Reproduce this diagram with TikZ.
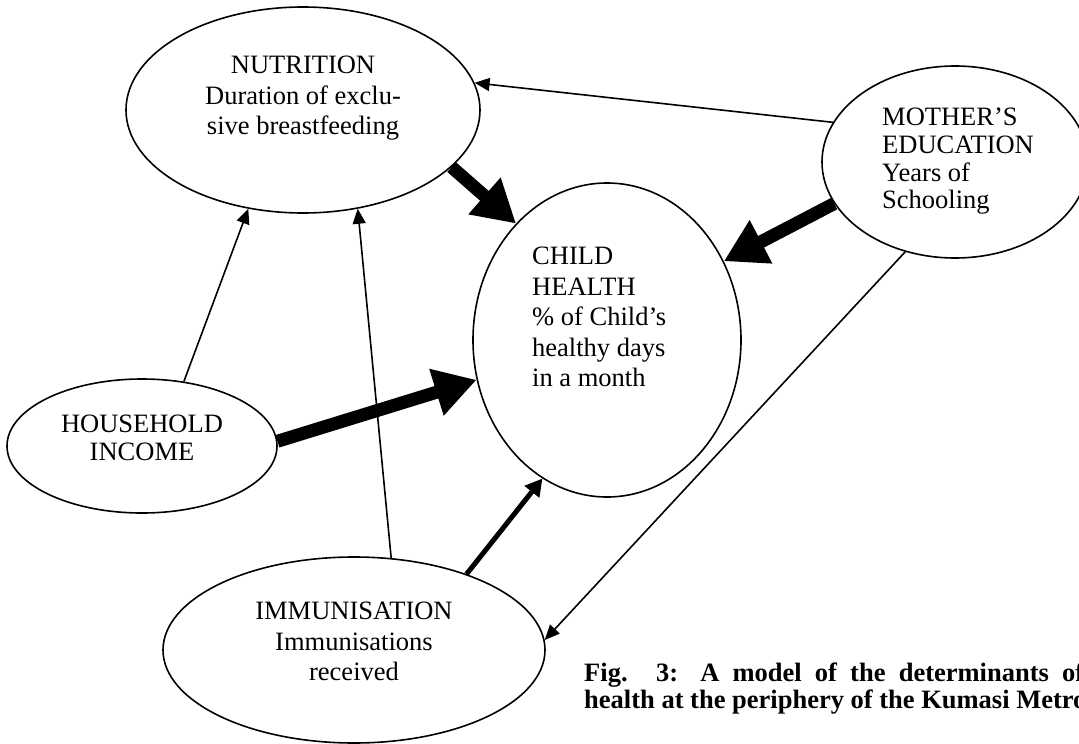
\documentclass[tikz,border=0pt]{standalone}
\usepackage{fontspec}
\setmainfont{Liberation Serif}
\usetikzlibrary{shapes.geometric,arrows.meta}

\begin{document}
\begin{tikzpicture}[x=1pt,y=-1pt,
  ell/.style={draw,ellipse,line width=1.6pt,inner sep=0pt},
  lbl/.style={inner sep=0pt,font=\fontsize{26.5}{30.5}\selectfont},
  thinarr/.style={line width=1.6pt,-{Triangle[length=15pt,width=13pt]}},
  midarr/.style={line width=5pt,-{Triangle[length=17pt,width=18pt]}},
  fatarr/.style={line width=13pt,-{Triangle[length=42pt,width=46pt]}}]
  \useasboundingbox (0,0) rectangle (1079,744);
  % ---------- the five determinants ---------------------------------
  \node[ell,minimum width=354pt,minimum height=206pt] (nutr) at (303,110) {};
  \node[ell,minimum width=268pt,minimum height=314pt] (child) at (607,340) {};
  \node[ell,minimum width=266pt,minimum height=192pt] (mother) at (955,162) {};
  \node[ell,minimum width=270pt,minimum height=134pt] (income) at (142,446) {};
  \node[ell,minimum width=382pt,minimum height=186pt] (immun) at (354,650) {};
  % ---------- texts inside the ellipses -----------------------------
  \node[lbl,align=center,anchor=north] (nutrtext) at (303,56)
      {NUTRITION\\Duration of exclu-\\sive breastfeeding};
  \node[lbl,align=left,anchor=north west] (childtext) at (532,247)
      {CHILD\\HEALTH\\\% of Child’s\\healthy days\\in a month};
  \node[lbl,font=\fontsize{26.5}{27.7}\selectfont,align=left,
        anchor=north west] (mothertext) at (882,108)
      {MOTHER’S\\EDUCATION\\Years of\\Schooling};
  \node[lbl,font=\fontsize{26.5}{27.5}\selectfont,align=center,
        anchor=north] (incometext) at (142,415)
      {HOUSEHOLD\\INCOME};
  \node[lbl,align=center,anchor=north] (immuntext) at (354,602)
      {IMMUNISATION\\Immunisations\\received};
  % ---------- effects -----------------------------------------------
  \draw[thinarr] (mother.162.7) -- (nutr.9.8);
  \draw[fatarr] (nutr.-21.2) -- (child.128.3);
  \draw[fatarr] (mother.-161.3) -- (child.34.8);
  \draw[thinarr] (income.57.5) -- (nutr.-119.3);
  \draw[thinarr] (immun.68.8) -- (nutr.-61.1);
  \draw[fatarr] (income.2.5) -- (child.-163.1);
  \draw[midarr] (immun.34.5) -- (child.-115.9);
  \draw[thinarr] (mother.-119.2) -- (immun.3);
  % ---------- caption (runs off the right edge) ---------------------
  \node[inner sep=0pt,font=\fontsize{26.5}{27}\selectfont\bfseries,
        align=left,anchor=north west] (caption) at (584,663)
      {\makebox[500pt][s]{Fig. 3: A model of the determinants of}\\
       health at the periphery of the Kumasi Metro};
\end{tikzpicture}
\end{document}
